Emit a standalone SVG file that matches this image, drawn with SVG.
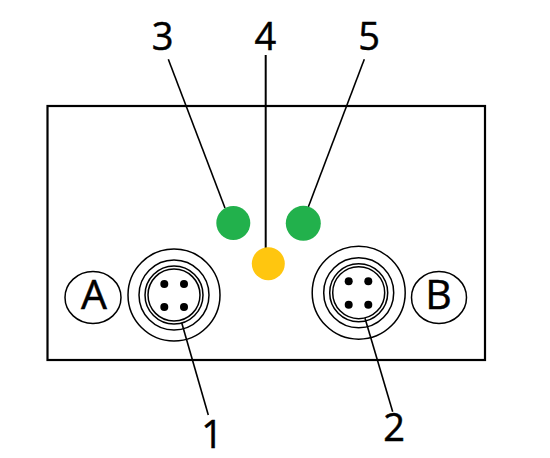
<svg xmlns="http://www.w3.org/2000/svg" width="550" height="458" viewBox="0 0 550 458">
<style>
text{font-family:"Open Sans","Noto Sans","DejaVu Sans",sans-serif;font-size:38px;fill:#000;stroke:#000;stroke-width:.5;text-anchor:middle}
.big{font-size:41px}
.o{fill:none;stroke:#000;stroke-width:1.5}
.p{fill:#000}
.l{stroke:#000;stroke-width:1.6;fill:none}
</style>
<rect width="550" height="458" fill="#fff"/>
<g id="housing"><rect x="47.500" y="106" width="437.500" height="254" fill="none" stroke="#000" stroke-width="2.200"/></g>
<g id="connectors">
<path class="l" d="M168.300 59.300L225 208"/>
<path class="l" d="M265.700 55V248" style="stroke-width:2"/>
<path class="l" d="M364.300 59.300L308.300 207"/>
<path class="l" d="M181.700 322.700L208.300 415"/>
<path class="l" d="M365 318.300L392.700 411.700"/>
</g>
<g id="port-a">
<circle class="o" cx="174" cy="295" r="46"/><circle class="o" cx="174" cy="295" r="35"/><circle class="o" cx="174" cy="295" r="29"/><circle class="o" cx="174" cy="295" r="26"/>
<circle class="p" cx="164.300" cy="284" r="4"/><circle class="p" cx="184" cy="284" r="4"/><circle class="p" cx="164.300" cy="307" r="4"/><circle class="p" cx="184" cy="307" r="4"/>
</g>
<g id="port-b">
<circle class="o" cx="358.700" cy="292.700" r="46.500"/><circle class="o" cx="358.700" cy="292.700" r="35"/><circle class="o" cx="358.700" cy="292.700" r="29"/><circle class="o" cx="358.700" cy="292.700" r="26"/>
<circle class="p" cx="348.700" cy="281.300" r="4"/><circle class="p" cx="368.300" cy="281.300" r="4"/><circle class="p" cx="348.700" cy="304.700" r="4"/><circle class="p" cx="368.300" cy="304.700" r="4"/>
</g>
<g id="label-a"><ellipse class="o" cx="93" cy="297.500" rx="28" ry="26"/><text class="big" x="94" y="309">A</text></g>
<g id="label-b"><ellipse class="o" cx="439" cy="297.500" rx="27.500" ry="26"/><text class="big" x="438.500" y="309">B</text></g>
<g id="led-3"><circle cx="233.300" cy="223" r="17" fill="#22b14c"/></g>
<g id="led-4"><circle cx="268.300" cy="263.700" r="16.500" fill="#ffc60f"/></g>
<g id="led-5"><circle cx="303.300" cy="223.300" r="17.500" fill="#22b14c"/></g>
<g id="num-3"><text x="162.700" y="50">3</text></g>
<g id="num-4"><text x="265.300" y="50">4</text></g>
<g id="num-5"><text x="369" y="50">5</text></g>
<g id="num-1"><text x="212" y="448">1</text></g>
<g id="num-2"><text x="394" y="441">2</text></g>
</svg>
